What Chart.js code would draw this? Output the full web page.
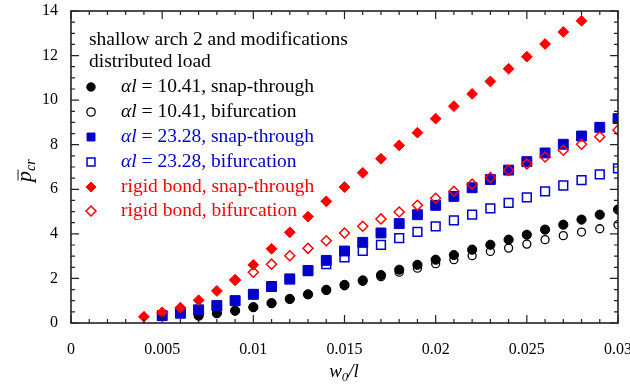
<!DOCTYPE html>
<html>
<head>
<meta charset="utf-8">
<script src="https://cdn.jsdelivr.net/npm/chart.js@4.4.0/dist/chart.umd.min.js"></script>
<style>
body { margin: 0; background: #fff; }
</style>
</head>
<body>
<canvas id="canvas" width="630" height="384"></canvas>
<script>
// w0/l values shared by all series
var xValues = [0.004, 0.005, 0.006, 0.007, 0.008, 0.009, 0.010, 0.011, 0.012, 0.013, 0.014,
               0.015, 0.016, 0.017, 0.018, 0.019, 0.020, 0.021, 0.022, 0.023, 0.024, 0.025,
               0.026, 0.027, 0.028, 0.029, 0.030];

// al = 10.41
var snap1041 = [null, null, null, 0.33, 0.44, 0.55, 0.71, 0.89, 1.08, 1.29, 1.49,
                1.71, 1.91, 2.15, 2.39, 2.61, 2.84, 3.05, 3.29, 3.51, 3.74, 3.96,
                4.19, 4.41, 4.64, 4.86, 5.09];
var bif1041 = [null, null, null, 0.33, 0.44, 0.55, 0.70, 0.88, 1.07, 1.27, 1.46,
               1.67, 1.87, 2.08, 2.28, 2.46, 2.66, 2.84, 3.02, 3.21, 3.36, 3.54,
               3.74, 3.92, 4.08, 4.23, 4.41];
// al = 23.28
var snap2328 = [null, 0.33, 0.44, 0.59, 0.78, 1.00, 1.29, 1.64, 1.98, 2.36, 2.81,
                3.23, 3.62, 4.04, 4.46, 4.86, 5.28, 5.68, 6.07, 6.44, 6.86, 7.24,
                7.63, 8.02, 8.39, 8.78, 9.17];
var bif2328 = [null, 0.33, 0.44, 0.59, 0.78, 1.00, 1.28, 1.62, 1.96, 2.33, 2.64,
               2.94, 3.24, 3.51, 3.81, 4.09, 4.34, 4.61, 4.86, 5.14, 5.39, 5.64,
               5.91, 6.17, 6.41, 6.67, 6.94];
// rigid bond
var snapRigid = [0.28, 0.48, 0.69, 1.02, 1.44, 1.94, 2.61, 3.33, 4.07, 4.77, 5.46,
                 6.10, 6.74, 7.37, 7.97, 8.54, 9.17, 9.73, 10.28, 10.84, 11.41, 11.95,
                 12.52, 13.06, 13.56, null, null];
var bifRigid = [null, null, null, null, null, 1.92, 2.28, 2.64, 3.02, 3.35, 3.69,
                4.04, 4.34, 4.67, 4.98, 5.28, 5.60, 5.91, 6.23, 6.53, 6.85, 7.14,
                7.45, 7.75, 8.02, 8.36, 8.66];

var xTickLabels = ['0', '0.005', '0.01', '0.015', '0.02', '0.025', '0.03'];
var yTickLabels = ['0', '2', '4', '6', '8', '10', '12', '14'];

var legendTitle = ['shallow arch 2 and modifications', 'distributed load'];

var RED = '#ff0000';
var BLUE = '#0000cc';
var NONE = 'rgba(0,0,0,0)';
var SERIF = '"Liberation Serif", "Times New Roman", serif';

function pts(ys) {
    var out = [];
    for (var i = 0; i < xValues.length; i++) {
        if (ys[i] !== null) out.push({ x: xValues[i], y: ys[i] });
    }
    return out;
}

// lower order = drawn on top
var datasets = [
    { key: 'al', num: '10.41', kind: 'snap-through', data: pts(snap1041), pointStyle: 'circle', pointRadius: 4.6,
      backgroundColor: '#000', borderColor: '#000', borderWidth: 1, order: 4, textColor: '#000' },
    { key: 'al', num: '10.41', kind: 'bifurcation', data: pts(bif1041), pointStyle: 'circle', pointRadius: 4,
      backgroundColor: NONE, borderColor: '#000', borderWidth: 1.3, order: 5, textColor: '#000' },
    { key: 'al', num: '23.28', kind: 'snap-through', data: pts(snap2328), pointStyle: 'rect', pointRadius: 7,
      backgroundColor: BLUE, borderColor: BLUE, borderWidth: 1, order: 3, textColor: BLUE },
    { key: 'al', num: '23.28', kind: 'bifurcation', data: pts(bif2328), pointStyle: 'rect', pointRadius: 6.2,
      backgroundColor: NONE, borderColor: BLUE, borderWidth: 1.5, order: 2, textColor: BLUE },
    { key: 'rigid', kind: 'snap-through', data: pts(snapRigid), pointStyle: 'rectRot', pointRadius: 5.4,
      backgroundColor: RED, borderColor: RED, borderWidth: 1, order: 1, textColor: RED },
    { key: 'rigid', kind: 'bifurcation', data: pts(bifRigid), pointStyle: 'rectRot', pointRadius: 5,
      backgroundColor: NONE, borderColor: RED, borderWidth: 1.5, order: 0, textColor: RED }
];
datasets.forEach(function (d) {
    d.showLine = false;
    d.pointHoverRadius = d.pointRadius;
});

var framePlugin = {
    id: 'frame',
    afterDraw: function (chart) {
        var ctx = chart.ctx;
        var a = chart.chartArea;
        var xs = chart.scales.x, ys = chart.scales.y;
        ctx.save();
        ctx.strokeStyle = '#222';
        ctx.lineWidth = 1.6;
        ctx.strokeRect(a.left, a.top, a.right - a.left, a.bottom - a.top);
        ctx.lineWidth = 1.2;
        ctx.beginPath();
        // x ticks, minor every 0.001, major every 0.005
        for (var i = 0; i <= 30; i++) {
            var px = xs.getPixelForValue(i * 0.001);
            var len = i % 5 === 0 ? 8 : 4;
            ctx.moveTo(px, a.bottom); ctx.lineTo(px, a.bottom - len);
            ctx.moveTo(px, a.top); ctx.lineTo(px, a.top + len);
        }
        // y ticks, minor every 0.5, major every 2
        for (var j = 0; j <= 28; j++) {
            var py = ys.getPixelForValue(j * 0.5);
            var l2 = j % 4 === 0 ? 8 : 4;
            ctx.moveTo(a.left, py); ctx.lineTo(a.left + l2, py);
            ctx.moveTo(a.right, py); ctx.lineTo(a.right - l2, py);
        }
        ctx.stroke();

        // axis titles
        ctx.fillStyle = '#000';
        ctx.textBaseline = 'alphabetic';
        ctx.textAlign = 'left';
        ctx.font = 'italic 19px ' + SERIF;
        var wW = ctx.measureText('w').width;
        ctx.font = 'italic 13px ' + SERIF;
        var w0 = ctx.measureText('0').width;
        ctx.font = 'italic 19px ' + SERIF;
        var wSl = ctx.measureText('/l').width;
        var tx = 344 - (wW + w0 + wSl) / 2, ty = 377;
        ctx.fillText('w', tx, ty);
        ctx.font = 'italic 13px ' + SERIF;
        ctx.fillText('0', tx + wW, ty + 4);
        ctx.font = 'italic 19px ' + SERIF;
        ctx.fillText('/l', tx + wW + w0, ty);

        ctx.save();
        ctx.translate(31, 182);
        ctx.rotate(-Math.PI / 2);
        ctx.font = 'italic 22px ' + SERIF;
        var pW = ctx.measureText('p').width;
        ctx.fillText('p', 0, 0);
        ctx.lineWidth = 1;
        ctx.beginPath();
        ctx.moveTo(1.5, -13); ctx.lineTo(pW + 1.5, -13);
        ctx.stroke();
        ctx.font = 'italic 14px ' + SERIF;
        ctx.fillText('cr', pW, 4);
        ctx.restore();

        // legend
        var lx = 89;
        ctx.font = '19.5px ' + SERIF;
        ctx.fillStyle = '#000';
        ctx.textBaseline = 'middle';
        ctx.fillText(legendTitle[0], lx, 40);
        ctx.fillText(legendTitle[1], lx, 62);
        var rowY = [87, 112, 137, 162, 187, 211];
        chart.data.datasets.forEach(function (d, k) {
            var y = rowY[k];
            ctx.fillStyle = d.backgroundColor;
            ctx.strokeStyle = d.borderColor;
            ctx.lineWidth = d.borderWidth;
            var r = d.pointStyle === 'rect' ? 5.6 : (d.pointStyle === 'circle' ? 4.2 : 5);
            Chart.helpers.drawPoint(ctx, { pointStyle: d.pointStyle, radius: r, borderWidth: d.borderWidth, rotation: 0 }, 91, y);
            ctx.fillStyle = d.textColor;
            var x = 121;
            if (d.key === 'al') {
                ctx.font = 'italic 19.5px ' + SERIF;
                ctx.fillText('\u03b1l', x, y);
                x += ctx.measureText('\u03b1l').width;
                ctx.font = '19.5px ' + SERIF;
                ctx.fillText(' = ' + d.num + ', ' + d.kind, x, y);
            } else {
                ctx.font = '19.5px ' + SERIF;
                ctx.fillText('rigid bond, ' + d.kind, x, y);
            }
        });
        ctx.restore();
    }
};

var canvasElement = document.getElementById('canvas');
var config = {
    type: 'scatter',
    data: { datasets: datasets },
    options: {
        responsive: false,
        animation: false,
        events: [],
        layout: { padding: { top: 11, right: 12, left: 0, bottom: 0 } },
        plugins: { legend: { display: false }, tooltip: { enabled: false } },
        scales: {
            x: {
                type: 'linear', min: 0, max: 0.03,
                grid: { display: false, drawTicks: false },
                border: { display: false },
                ticks: {
                    stepSize: 0.005, autoSkip: false, maxRotation: 0, padding: 17,
                    color: '#000', font: { family: SERIF, size: 16 },
                    callback: function (v, i) { return xTickLabels[i]; }
                },
                afterFit: function (s) { s.height = 61; s.paddingLeft = 0; s.paddingRight = 0; }
            },
            y: {
                type: 'linear', min: 0, max: 14,
                grid: { display: false, drawTicks: false },
                border: { display: false },
                ticks: {
                    stepSize: 2, autoSkip: false, padding: 13,
                    color: '#000', font: { family: SERIF, size: 16 },
                    callback: function (v, i) { return yTickLabels[i]; }
                },
                afterFit: function (s) { s.width = 71; s.paddingTop = 0; s.paddingBottom = 0; }
            }
        }
    },
    plugins: [framePlugin]
};

var scatterChart = new Chart(canvasElement, config);
</script>
</body>
</html>
